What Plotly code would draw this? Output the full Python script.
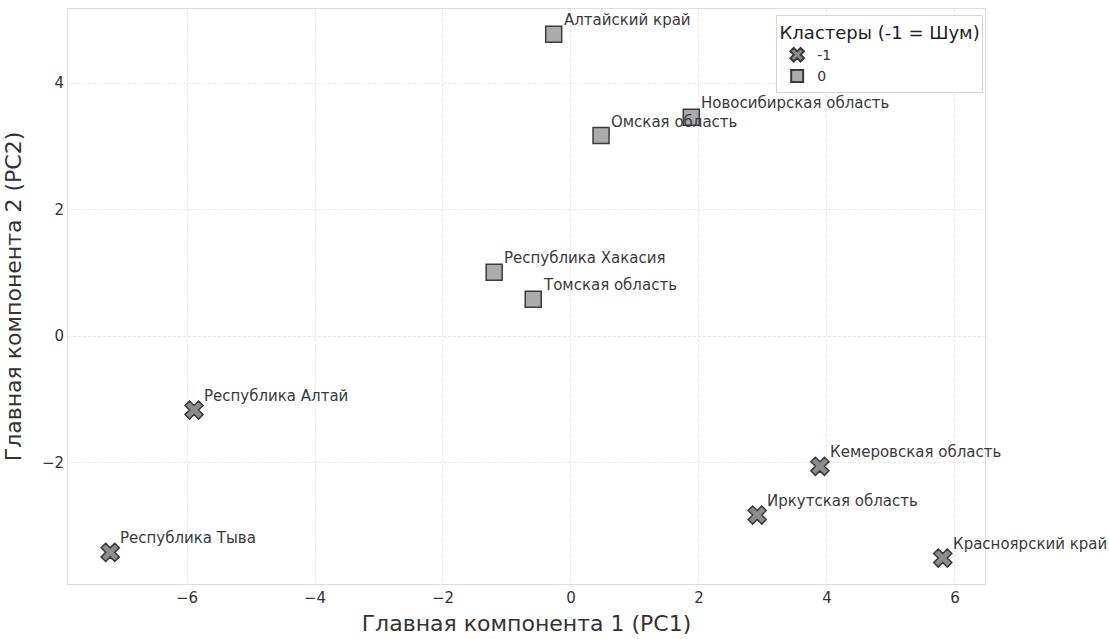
import plotly.graph_objects as go

# PCA projection of Siberian regions with DBSCAN cluster labels
regions = [
    "Алтайский край", "Новосибирская область", "Омская область",
    "Республика Хакасия", "Томская область", "Республика Алтай",
    "Республика Тыва", "Кемеровская область", "Иркутская область",
    "Красноярский край",
]
pc1 = [-0.27, 1.88, 0.47, -1.20, -0.59, -5.89, -7.20, 3.89, 2.91, 5.81]
pc2 = [4.77, 3.46, 3.17, 1.01, 0.58, -1.17, -3.42, -2.06, -2.83, -3.51]
cluster = [0, 0, 0, 0, 0, -1, -1, -1, -1, -1]

styles = {
    -1: dict(symbol="x", color="#8c8c8c"),
    0: dict(symbol="square", color="#ababab"),
}

fig = go.Figure()
for c in [-1, 0]:
    idx = [i for i, v in enumerate(cluster) if v == c]
    fig.add_trace(go.Scatter(
        x=[pc1[i] for i in idx],
        y=[pc2[i] for i in idx],
        mode="markers",
        name=str(c),
        marker=dict(symbol=styles[c]["symbol"], color=styles[c]["color"],
                    size=16, line=dict(color="#3a3a3a", width=1.5)),
    ))

for name, x, y in zip(regions, pc1, pc2):
    fig.add_annotation(
        x=x, y=y, text=name, showarrow=False,
        xanchor="left", yanchor="bottom", xshift=8, yshift=3,
        font=dict(size=15, color="#3a3a3a"),
    )

axis_common = dict(
    showgrid=True, gridcolor="#e8e8e8", griddash="3px,2px", gridwidth=1,
    zeroline=False, showline=True, linecolor="#dddddd", linewidth=1,
    mirror=True, ticks="", tickfont=dict(size=15, color="#333333"),
)

fig.update_layout(
    width=1109, height=639,
    margin=dict(l=68, r=124, t=8, b=54),
    paper_bgcolor="white", plot_bgcolor="white",
    font=dict(family="DejaVu Sans", color="#333333"),
    xaxis=dict(range=[-7.86, 6.47], dtick=2,
               title=dict(text="Главная компонента 1 (PC1)",
                          font=dict(size=22), standoff=9),
               **axis_common),
    yaxis=dict(range=[-3.92, 5.17], dtick=2,
               title=dict(text="Главная компонента 2 (PC2)",
                          font=dict(size=22), standoff=14),
               **axis_common),
    legend=dict(
        title=dict(text="Кластеры (-1 = Шум)", side="top center",
                   font=dict(size=18, color="#222222")),
        x=0.998, y=0.99, xanchor="right", yanchor="top",
        bgcolor="rgba(255,255,255,0.85)", bordercolor="#d6d6d6",
        borderwidth=1, font=dict(size=14, color="#333333"),
        itemsizing="constant", tracegroupgap=0,
    ),
)

fig.write_html("out.html")
